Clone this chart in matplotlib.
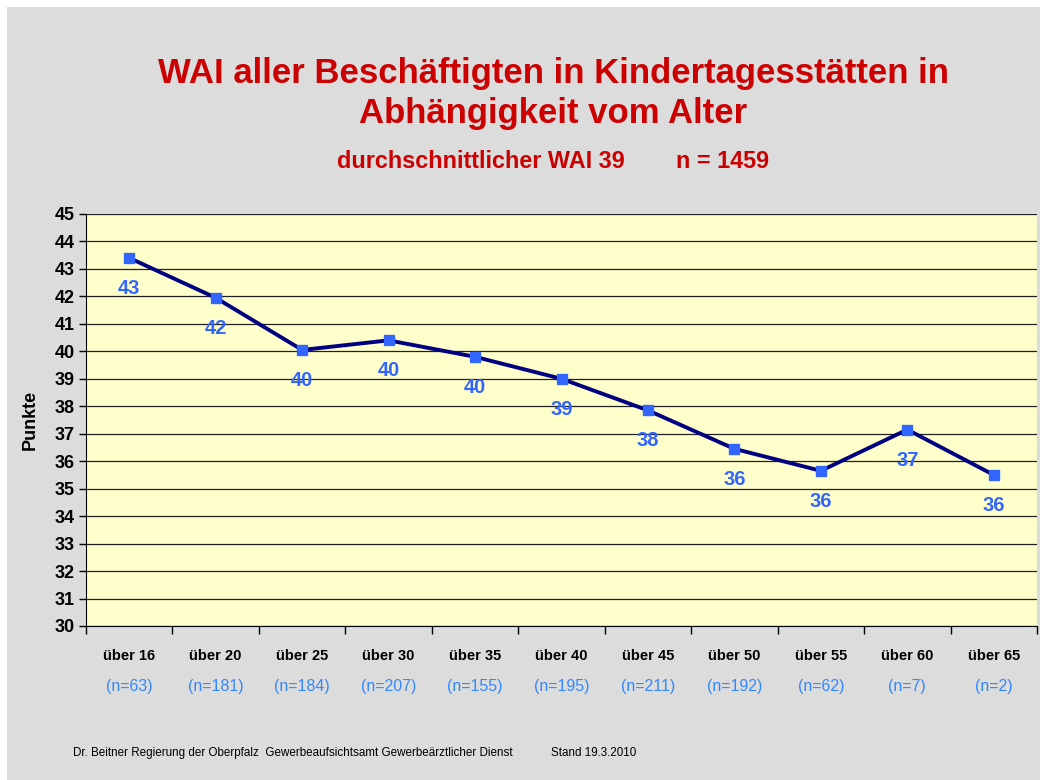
import matplotlib.pyplot as plt
from matplotlib.patches import Rectangle

plt.rcParams['font.family'] = ['Liberation Sans', 'DejaVu Sans']

# data
ages = ['über 16', 'über 20', 'über 25', 'über 30', 'über 35', 'über 40',
        'über 45', 'über 50', 'über 55', 'über 60', 'über 65']
counts = ['(n=63)', '(n=181)', '(n=184)', '(n=207)', '(n=155)', '(n=195)',
          '(n=211)', '(n=192)', '(n=62)', '(n=7)', '(n=2)']
wai = [43.4, 41.95, 40.05, 40.4, 39.8, 39.0, 37.85, 36.45, 35.65, 37.15, 35.5]
shown = ['43', '42', '40', '40', '40', '39', '38', '36', '36', '37', '36']

fig = plt.figure(figsize=(10.4, 7.8), dpi=100)
fig.patch.set_facecolor('white')
# grey slide background with thin white margin at top/left
fig.patches.append(Rectangle((7 / 1040, 0), 1, 1 - 7 / 780, transform=fig.transFigure,
                             facecolor='#DCDCDC', edgecolor='none', zorder=-10))

ax = fig.add_axes([86 / 1040, 1 - 626 / 780, (1037 - 86) / 1040, (626 - 214) / 780])
ax.set_facecolor('#FFFFCC')

x = list(range(len(ages)))
ax.plot(x, wai, color='#000080', lw=2.8, zorder=3)
ax.plot(x, wai, ls='none', marker='s', ms=7.5, color='#3366FF', zorder=4)
for xi, yi, t in zip(x, wai, shown):
    ax.annotate(t, (xi, yi), xytext=(0, -22), textcoords='offset points',
                ha='center', va='center', fontsize=14.5, fontweight='bold',
                color='#3366FF')

ax.set_xlim(-0.5, len(ages) - 0.5)
ax.set_ylim(30, 45)
ax.set_yticks(range(30, 46))
ax.tick_params(axis='y', labelsize=13, length=5, width=1, pad=3)
for lbl in ax.get_yticklabels():
    lbl.set_fontweight('bold')
ax.yaxis.grid(True, color='#202020', lw=0.9)
ax.set_axisbelow(True)

# category ticks at boundaries, labels at centres
ax.set_xticks([i - 0.5 for i in range(len(ages) + 1)])
ax.set_xticklabels([])
ax.tick_params(axis='x', length=6, width=1)
tr = ax.get_xaxis_transform()
for xi, a, c in zip(x, ages, counts):
    ax.text(xi, -0.073, a, transform=tr, ha='center', va='center',
            fontsize=10.5, fontweight='bold', color='black')
    ax.text(xi, -0.146, c, transform=tr, ha='center', va='center',
            fontsize=11.5, color='#3388FF')

for s in ['top', 'right']:
    ax.spines[s].set_visible(False)
ax.spines['left'].set_color('black')
ax.spines['bottom'].set_color('black')

ax.set_ylabel('Punkte', fontsize=13, fontweight='bold')
ax.yaxis.set_label_coords(-0.05, 0.5)

fig.text(553 / 1040, 1 - 73 / 780, 'WAI aller Beschäftigten in Kindertagesstätten in',
         ha='center', va='center', fontsize=25, fontweight='bold', color='#CC0000')
fig.text(553 / 1040, 1 - 114 / 780, 'Abhängigkeit vom Alter',
         ha='center', va='center', fontsize=25, fontweight='bold', color='#CC0000')
fig.text(337 / 1040, 1 - 162 / 780, 'durchschnittlicher WAI 39',
         ha='left', va='center', fontsize=16.8, fontweight='bold', color='#CC0000')
fig.text(676 / 1040, 1 - 162 / 780, 'n = 1459',
         ha='left', va='center', fontsize=16.8, fontweight='bold', color='#CC0000')

fig.text(73 / 1040, 1 - 753 / 780,
         'Dr. Beitner Regierung der Oberpfalz  Gewerbeaufsichtsamt Gewerbeärztlicher Dienst',
         ha='left', va='center', fontsize=8.4, color='black')
fig.text(551 / 1040, 1 - 753 / 780, 'Stand 19.3.2010',
         ha='left', va='center', fontsize=8.4, color='black')

fig.savefig('out.png', dpi=100)
